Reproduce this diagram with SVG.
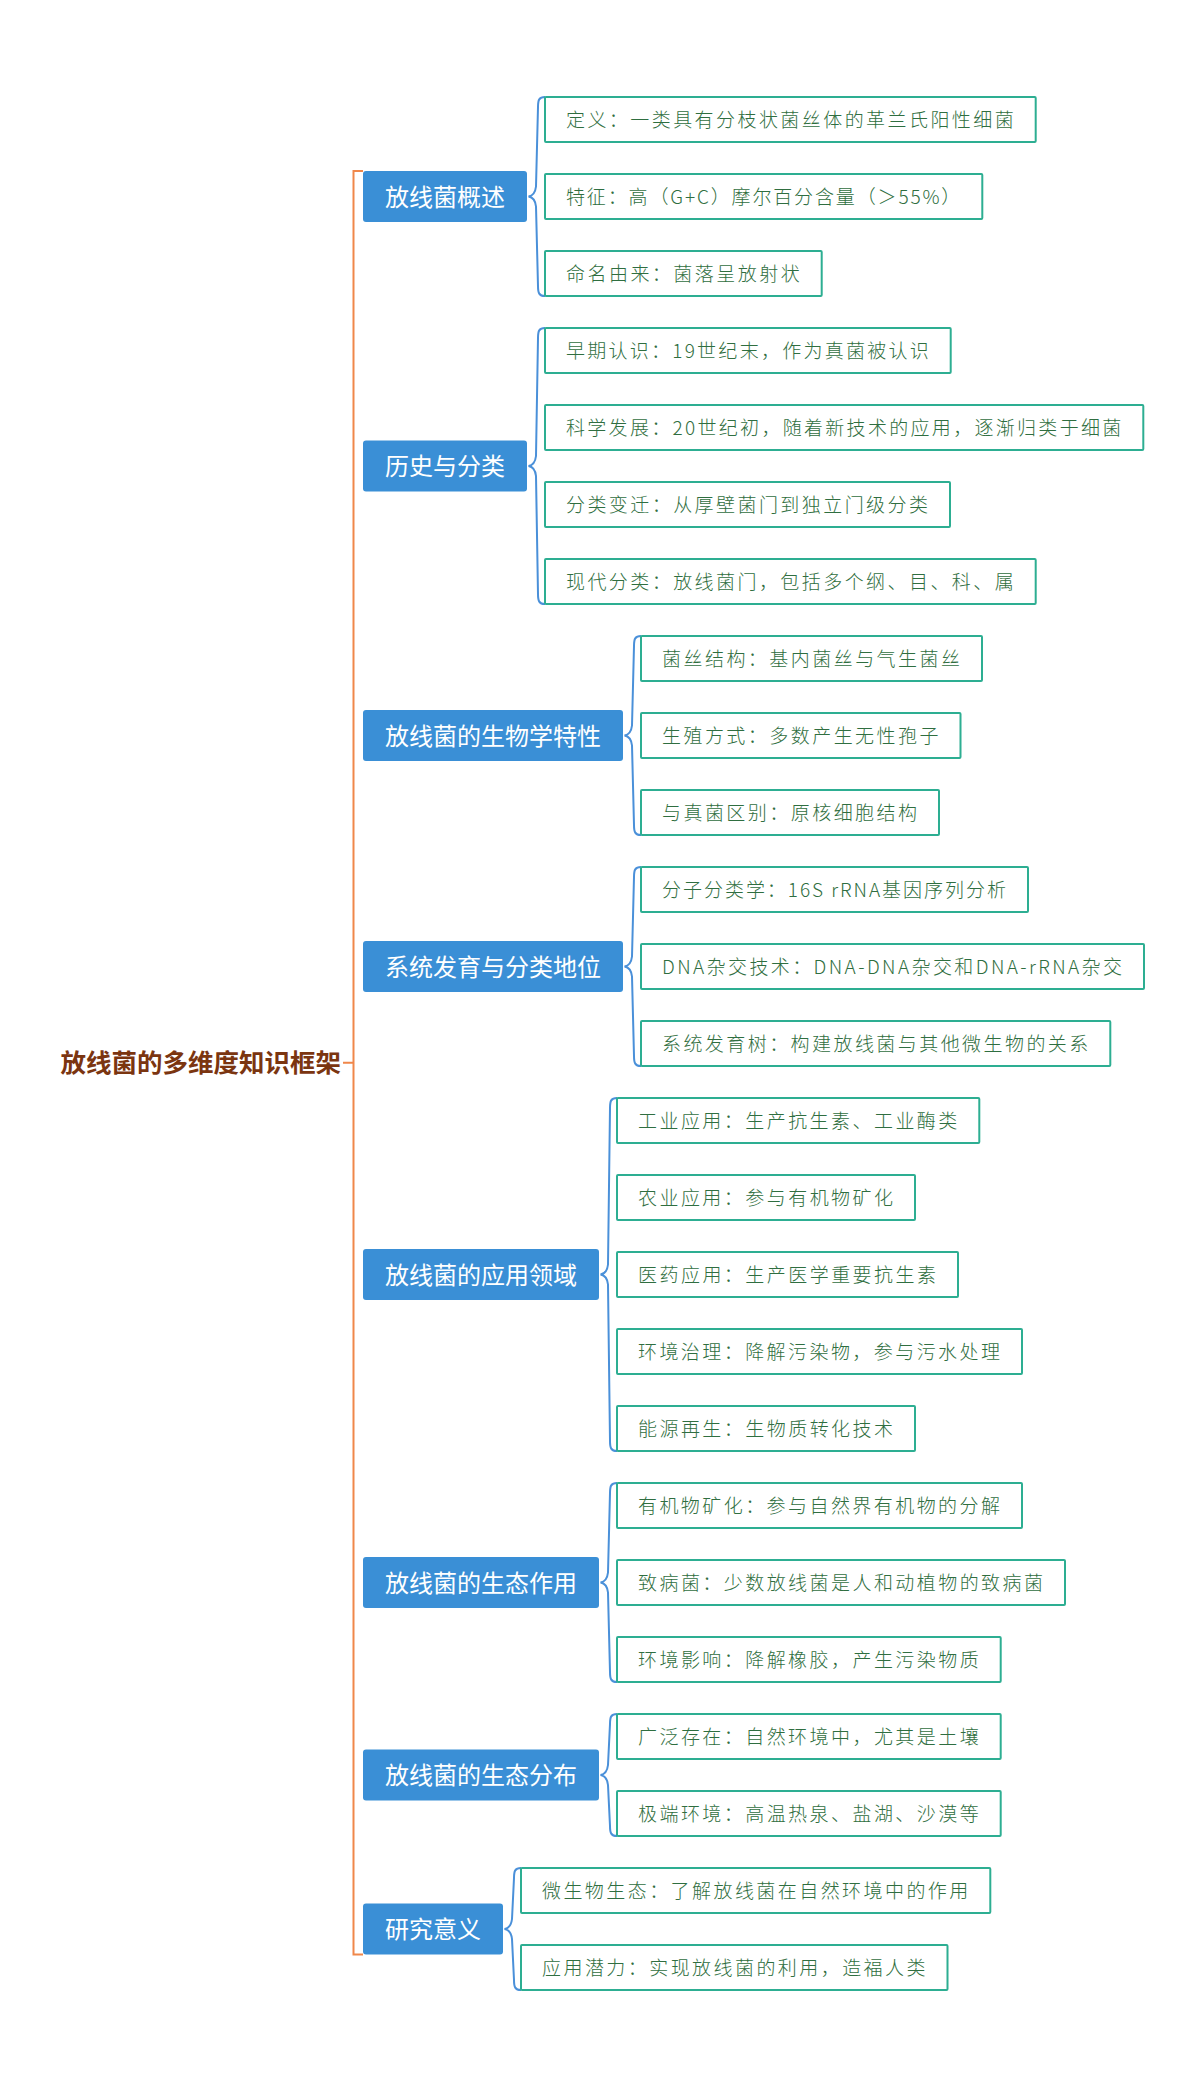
<svg xmlns="http://www.w3.org/2000/svg" width="1200" height="2087" viewBox="0 0 1200 2087">
<style>
.root{font-family:"Noto Sans CJK SC","Noto Sans",sans-serif;font-size:25.5px;font-weight:bold;fill:#7B3510}
.node rect{fill:#3A8FD6}
.node text{font-family:"Noto Sans CJK SC","Noto Sans",sans-serif;font-size:24px;fill:#FFFFFF;text-anchor:middle}
.leaf rect{fill:#FFFFFF;stroke:#2DAE92;stroke-width:2}
.leaf text{font-family:"Noto Sans CJK SC","Noto Sans",sans-serif;font-size:19px;font-weight:300;fill:#2F6E40}
.brace{fill:none;stroke:#4A90D9;stroke-width:2}
.trunk{fill:none;stroke:#F0874A;stroke-width:2}
</style>
<rect width="1200" height="2087" fill="#FFFFFF"/>
<g id="connectors">
<path class="trunk" d="M363,171 L353.5,171 L353.5,1954.5 L363,1954.5 M343,1062.7 L353.5,1062.7"/>
<path class="brace" d="M545,97 C539,97 538,100 538,107 L536,186.5 Q535,195.5 528.5,196.5 Q535,197.5 536,206.5 L538,286 C538,293 539,296 545,296"/>
<path class="brace" d="M545,328 C539,328 538,331 538,338 L536,456 Q535,465 528.5,466 Q535,467 536,476 L538,594 C538,601 539,604 545,604"/>
<path class="brace" d="M641,636 C635,636 634,639 634,646 L632,725.5 Q631,734.5 624.5,735.5 Q631,736.5 632,745.5 L634,825 C634,832 635,835 641,835"/>
<path class="brace" d="M641,867 C635,867 634,870 634,877 L632,956.5 Q631,965.5 624.5,966.5 Q631,967.5 632,976.5 L634,1056 C634,1063 635,1066 641,1066"/>
<path class="brace" d="M617,1098 C611,1098 610,1101 610,1108 L608,1264.5 Q607,1273.5 600.5,1274.5 Q607,1275.5 608,1284.5 L610,1441 C610,1448 611,1451 617,1451"/>
<path class="brace" d="M617,1483 C611,1483 610,1486 610,1493 L608,1572.5 Q607,1581.5 600.5,1582.5 Q607,1583.5 608,1592.5 L610,1672 C610,1679 611,1682 617,1682"/>
<path class="brace" d="M617,1714 C611,1714 610,1717 610,1724 L608,1765 Q607,1774 600.5,1775 Q607,1776 608,1785 L610,1826 C610,1833 611,1836 617,1836"/>
<path class="brace" d="M521,1868 C515,1868 514,1871 514,1878 L512,1919 Q511,1928 504.5,1929 Q511,1930 512,1939 L514,1980 C514,1987 515,1990 521,1990"/>
</g>
<g id="root"><text class="root" x="341" y="1072" text-anchor="end">放线菌的多维度知识框架</text></g>

<g id="n1" class="node"><rect x="363" y="171" width="164" height="51" rx="3"/><text x="445" y="205.5">放线菌概述</text></g>
<g id="n2" class="node"><rect x="363" y="440.5" width="164" height="51" rx="3"/><text x="445" y="475">历史与分类</text></g>
<g id="n3" class="node"><rect x="363" y="710" width="260" height="51" rx="3"/><text x="493" y="744.5">放线菌的生物学特性</text></g>
<g id="n4" class="node"><rect x="363" y="941" width="260" height="51" rx="3"/><text x="493" y="975.5">系统发育与分类地位</text></g>
<g id="n5" class="node"><rect x="363" y="1249" width="236" height="51" rx="3"/><text x="481" y="1283.5">放线菌的应用领域</text></g>
<g id="n6" class="node"><rect x="363" y="1557" width="236" height="51" rx="3"/><text x="481" y="1591.5">放线菌的生态作用</text></g>
<g id="n7" class="node"><rect x="363" y="1749.5" width="236" height="51" rx="3"/><text x="481" y="1784">放线菌的生态分布</text></g>
<g id="n8" class="node"><rect x="363" y="1903.5" width="140" height="51" rx="3"/><text x="433" y="1938">研究意义</text></g>

<g id="l0" class="leaf"><rect x="545" y="97" width="490.7" height="45" rx="1"/><text x="566" y="126.5" textLength="447.7" lengthAdjust="spacing">定义：一类具有分枝状菌丝体的革兰氏阳性细菌</text></g>
<g id="l1" class="leaf"><rect x="545" y="174" width="437.3" height="45" rx="1"/><text x="566" y="203.5" textLength="394.3" lengthAdjust="spacing">特征：高（G+C）摩尔百分含量（＞55%）</text></g>
<g id="l2" class="leaf"><rect x="545" y="251" width="276.7" height="45" rx="1"/><text x="566" y="280.5" textLength="233.7" lengthAdjust="spacing">命名由来：菌落呈放射状</text></g>
<g id="l3" class="leaf"><rect x="545" y="328" width="405.7" height="45" rx="1"/><text x="566" y="357.5" textLength="362.7" lengthAdjust="spacing">早期认识：19世纪末，作为真菌被认识</text></g>
<g id="l4" class="leaf"><rect x="545" y="405" width="598.3" height="45" rx="1"/><text x="566" y="434.5" textLength="555.3" lengthAdjust="spacing">科学发展：20世纪初，随着新技术的应用，逐渐归类于细菌</text></g>
<g id="l5" class="leaf"><rect x="545" y="482" width="405" height="45" rx="1"/><text x="566" y="511.5" textLength="362" lengthAdjust="spacing">分类变迁：从厚壁菌门到独立门级分类</text></g>
<g id="l6" class="leaf"><rect x="545" y="559" width="490.7" height="45" rx="1"/><text x="566" y="588.5" textLength="447.7" lengthAdjust="spacing">现代分类：放线菌门，包括多个纲、目、科、属</text></g>
<g id="l7" class="leaf"><rect x="641" y="636" width="341" height="45" rx="1"/><text x="662" y="665.5" textLength="298" lengthAdjust="spacing">菌丝结构：基内菌丝与气生菌丝</text></g>
<g id="l8" class="leaf"><rect x="641" y="713" width="319.5" height="45" rx="1"/><text x="662" y="742.5" textLength="276.5" lengthAdjust="spacing">生殖方式：多数产生无性孢子</text></g>
<g id="l9" class="leaf"><rect x="641" y="790" width="298" height="45" rx="1"/><text x="662" y="819.5" textLength="255" lengthAdjust="spacing">与真菌区别：原核细胞结构</text></g>
<g id="l10" class="leaf"><rect x="641" y="867" width="387" height="45" rx="1"/><text x="662" y="896.5" textLength="344" lengthAdjust="spacing">分子分类学：16S rRNA基因序列分析</text></g>
<g id="l11" class="leaf"><rect x="641" y="944" width="503" height="45" rx="1"/><text x="662" y="973.5" textLength="460" lengthAdjust="spacing">DNA杂交技术：DNA-DNA杂交和DNA-rRNA杂交</text></g>
<g id="l12" class="leaf"><rect x="641" y="1021" width="469.3" height="45" rx="1"/><text x="662" y="1050.5" textLength="426.3" lengthAdjust="spacing">系统发育树：构建放线菌与其他微生物的关系</text></g>
<g id="l13" class="leaf"><rect x="617" y="1098" width="362.3" height="45" rx="1"/><text x="638" y="1127.5" textLength="319.3" lengthAdjust="spacing">工业应用：生产抗生素、工业酶类</text></g>
<g id="l14" class="leaf"><rect x="617" y="1175" width="298" height="45" rx="1"/><text x="638" y="1204.5" textLength="255" lengthAdjust="spacing">农业应用：参与有机物矿化</text></g>
<g id="l15" class="leaf"><rect x="617" y="1252" width="341" height="45" rx="1"/><text x="638" y="1281.5" textLength="298" lengthAdjust="spacing">医药应用：生产医学重要抗生素</text></g>
<g id="l16" class="leaf"><rect x="617" y="1329" width="405" height="45" rx="1"/><text x="638" y="1358.5" textLength="362" lengthAdjust="spacing">环境治理：降解污染物，参与污水处理</text></g>
<g id="l17" class="leaf"><rect x="617" y="1406" width="298" height="45" rx="1"/><text x="638" y="1435.5" textLength="255" lengthAdjust="spacing">能源再生：生物质转化技术</text></g>
<g id="l18" class="leaf"><rect x="617" y="1483" width="405" height="45" rx="1"/><text x="638" y="1512.5" textLength="362" lengthAdjust="spacing">有机物矿化：参与自然界有机物的分解</text></g>
<g id="l19" class="leaf"><rect x="617" y="1560" width="448" height="45" rx="1"/><text x="638" y="1589.5" textLength="405" lengthAdjust="spacing">致病菌：少数放线菌是人和动植物的致病菌</text></g>
<g id="l20" class="leaf"><rect x="617" y="1637" width="383.7" height="45" rx="1"/><text x="638" y="1666.5" textLength="340.7" lengthAdjust="spacing">环境影响：降解橡胶，产生污染物质</text></g>
<g id="l21" class="leaf"><rect x="617" y="1714" width="383.7" height="45" rx="1"/><text x="638" y="1743.5" textLength="340.7" lengthAdjust="spacing">广泛存在：自然环境中，尤其是土壤</text></g>
<g id="l22" class="leaf"><rect x="617" y="1791" width="383.7" height="45" rx="1"/><text x="638" y="1820.5" textLength="340.7" lengthAdjust="spacing">极端环境：高温热泉、盐湖、沙漠等</text></g>
<g id="l23" class="leaf"><rect x="521" y="1868" width="469.3" height="45" rx="1"/><text x="542" y="1897.5" textLength="426.3" lengthAdjust="spacing">微生物生态：了解放线菌在自然环境中的作用</text></g>
<g id="l24" class="leaf"><rect x="521" y="1945" width="426.5" height="45" rx="1"/><text x="542" y="1974.5" textLength="383.5" lengthAdjust="spacing">应用潜力：实现放线菌的利用，造福人类</text></g>
</svg>
